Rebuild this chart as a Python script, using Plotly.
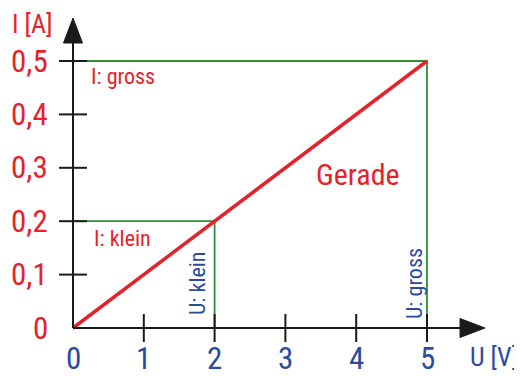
import plotly.graph_objects as go

# ---- data ----
u_values = [0, 5]            # U [V]
i_values = [0.0, 0.5]        # I [A]
u_small, i_small = 2, 0.2    # "klein"
u_big, i_big = 5, 0.5        # "gross"
x_ticks = [0, 1, 2, 3, 4, 5]
x_tick_labels = ["0", "1", "2", "3", "4", "5"]
y_ticks = [0.0, 0.1, 0.2, 0.3, 0.4, 0.5]
y_tick_labels = ["0", "0,1", "0,2", "0,3", "0,4", "0,5"]

RED = "#e3232b"
BLUE = "#2b4c9e"
GREEN = "#2f8f35"
FONT = "Liberation Sans Narrow, Arial Narrow, Roboto Condensed, DejaVu Sans Condensed, Liberation Sans, sans-serif"
WEIGHT = 400

# page has an 8px body margin, so the figure is drawn at (8, 8)
W, H = 514, 368
px_x, px_y = 70.8, 534.0
ox, oy = 65.0, 320.0
xr = [-ox / px_x, (W - ox) / px_x]
yr = [-(H - oy) / px_y, oy / px_y]

fig = go.Figure()

# green helper lines
for uu, ii in [(u_small, i_small), (u_big, i_big)]:
    fig.add_trace(go.Scatter(x=[0, uu, uu], y=[ii, ii, 0], mode="lines",
                             line=dict(color=GREEN, width=1.8), hoverinfo="skip"))

# axes lines
x_arrow_tip = 412 / px_x
x_arrow_base = 387 / px_x
y_arrow_tip = 310 / px_y
y_arrow_base = 285 / px_y
fig.add_shape(type="line", x0=0, y0=0, x1=x_arrow_base, y1=0, line=dict(color="#1a1a1a", width=2))
fig.add_shape(type="line", x0=0, y0=0, x1=0, y1=y_arrow_base, line=dict(color="#1a1a1a", width=2))
hw_y = 9.5 / px_y
hw_x = 9.5 / px_x
fig.add_shape(type="path",
              path=f"M {x_arrow_base},{-hw_y} L {x_arrow_tip},0 L {x_arrow_base},{hw_y} Z",
              fillcolor="#1a1a1a", line=dict(color="#1a1a1a", width=1))
fig.add_shape(type="path",
              path=f"M {-hw_x},{y_arrow_base} L 0,{y_arrow_tip} L {hw_x},{y_arrow_base} Z",
              fillcolor="#1a1a1a", line=dict(color="#1a1a1a", width=1))

# tick marks
fig.add_trace(go.Scatter(x=x_ticks[1:], y=[0] * (len(x_ticks) - 1), mode="markers",
                         marker=dict(symbol="line-ns", size=20, line=dict(color="#1a1a1a", width=2)),
                         hoverinfo="skip"))
fig.add_trace(go.Scatter(x=[0] * (len(y_ticks) - 1), y=y_ticks[1:], mode="markers",
                         marker=dict(symbol="line-ew", size=20, line=dict(color="#1a1a1a", width=2)),
                         hoverinfo="skip"))

# red line (Gerade)
fig.add_trace(go.Scatter(x=u_values, y=i_values, mode="lines",
                         line=dict(color=RED, width=3.5), hoverinfo="skip"))

# tick labels
for v, t in zip(y_ticks, y_tick_labels):
    fig.add_annotation(x=-23 / px_x, y=v, text=t, showarrow=False, xanchor="right", yanchor="middle",
                       font=dict(family=FONT, size=31, color=RED, weight=WEIGHT))
for v, t in zip(x_ticks, x_tick_labels):
    fig.add_annotation(x=v, y=-30 / px_y, text=t, showarrow=False, xanchor="center", yanchor="middle",
                       font=dict(family=FONT, size=31, color=BLUE, weight=WEIGHT))

# axis titles
fig.add_annotation(x=-63 / px_x, y=304 / px_y, text="I [A]", showarrow=False, xanchor="left",
                   yanchor="middle", font=dict(family=FONT, size=26, color=RED, weight=WEIGHT))
fig.add_annotation(x=395 / px_x, y=-29 / px_y, text="U [V]", showarrow=False, xanchor="left",
                   yanchor="middle", font=dict(family=FONT, size=26, color=BLUE, weight=WEIGHT))

# labels
fig.add_annotation(x=16 / px_x, y=252 / px_y, text="I: gross", showarrow=False, xanchor="left",
                   yanchor="middle", font=dict(family=FONT, size=22, color=RED, weight=WEIGHT))
fig.add_annotation(x=19 / px_x, y=90 / px_y, text="I: klein", showarrow=False, xanchor="left",
                   yanchor="middle", font=dict(family=FONT, size=22, color=RED, weight=WEIGHT))
fig.add_annotation(x=124 / px_x, y=45 / px_y, text="U: klein", showarrow=False, textangle=-90,
                   xanchor="center", yanchor="middle", font=dict(family=FONT, size=22, color=BLUE, weight=WEIGHT))
fig.add_annotation(x=341 / px_x, y=44 / px_y, text="U: gross", showarrow=False, textangle=-90,
                   xanchor="center", yanchor="middle", font=dict(family=FONT, size=22, color=BLUE, weight=WEIGHT))
fig.add_annotation(x=285 / px_x, y=154 / px_y, text="Gerade", showarrow=False, xanchor="center",
                   yanchor="middle", font=dict(family=FONT, size=30, color=RED, weight=WEIGHT))

fig.update_layout(width=W, height=H, margin=dict(l=0, r=0, t=0, b=0),
                  paper_bgcolor="white", plot_bgcolor="white", showlegend=False,
                  xaxis=dict(range=xr, visible=False, fixedrange=True),
                  yaxis=dict(range=yr, visible=False, fixedrange=True))
fig.write_html("out.html", config={"displayModeBar": False})
